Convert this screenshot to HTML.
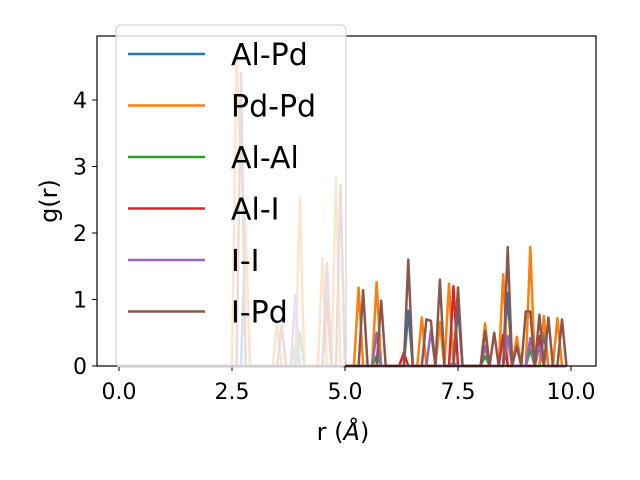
<!DOCTYPE html>
<html><head><meta charset="utf-8"><style>body{margin:0;background:#fff}svg{display:block;font-family:"DejaVu Sans","Liberation Sans",sans-serif}</style></head>
<body>
<svg id="chart" width="640" height="480"></svg>
<script>
const xTicks=[0,2.5,5,7.5,10];
const xTickLabels=["0.0","2.5","5.0","7.5","10.0"];
const yTicks=[0,1,2,3,4];
const seriesNames=["Al-Pd","Pd-Pd","Al-Al","Al-I","I-I","I-Pd"];
const seriesColors=["#1f77b4","#ff7f0e","#2ca02c","#d62728","#9467bd","#8c564b"];
const alPdR=[2.8,3.9,6.4,7.5,8.6,9.4];
const alPdG=[2.05,0.3,0.83,0.9,1.1,0.5];
const pdPdR=[2.6,2.7,2.8,3.5,4.0,4.5,4.8,5.3,5.7,6.7,7.1,7.3,8.1,8.5,8.8,9.1,9.4,9.7];
const pdPdG=[4.6,3.0,2.0,0.65,2.54,1.62,2.84,1.18,1.26,0.73,0.66,1.24,0.64,1.38,0.44,1.79,0.75,0.72];
const alAlR=[4.0,5.7,8.1,9.1];
const alAlG=[0.5,0.15,0.15,0.25];
const alIR=[4.6,6.3,7.4,8.5,9.3];
const alIG=[1.0,0.2,1.2,0.47,0.45];
const iIR=[3.9,5.7,6.9,7.4,8.1,8.6,9.1,9.3];
const iIG=[1.07,0.5,0.54,0.05,0.3,0.45,0.42,0.3];
const iPdR=[2.7,3.6,4.6,4.9,5.4,5.8,6.4,6.8,6.9,7.1,7.5,8.1,8.3,8.6,8.8,9.0,9.1,9.3,9.5,9.8];
const iPdG=[4.4,0.6,1.55,2.72,1.14,0.98,1.6,0.7,0.68,1.3,1.18,0.53,0.5,1.79,0.3,0.82,0.82,0.77,0.73,0.7];
const peakR=[alPdR,pdPdR,alAlR,alIR,iIR,iPdR];
const peakG=[alPdG,pdPdG,alAlG,alIG,iIG,iPdG];

const L=97,R=596,T=36,B=366;
const xs=v=>119+v*45.2;
const ys=v=>366-v*66.5;
const NS="http://www.w3.org/2000/svg";
const svg=document.getElementById('chart');
function mk(tag,attrs,parent){const e=document.createElementNS(NS,tag);for(const k in attrs)e.setAttribute(k,attrs[k]);(parent||svg).appendChild(e);return e;}

peakR.forEach((rs,si)=>{
  const vals=new Array(100).fill(0);
  rs.forEach((r,j)=>{vals[Math.round(r*10)]=peakG[si][j];});
  const pts=vals.map((v,i)=>xs(i/10).toFixed(1)+","+ys(v).toFixed(1)).join(" ");
  const pl=mk('polyline',{points:pts,fill:'none',stroke:seriesColors[si],'stroke-width':2.5,'stroke-linejoin':'round'});
  
  
});

const fr=mk('rect',{x:L,y:T,width:R-L,height:B-T,fill:'none',stroke:'#000','stroke-width':1.2});



xTicks.forEach((t,i)=>{
  mk('line',{x1:xs(t),x2:xs(t),y1:B,y2:B+5,stroke:'#000'});
  const tx=mk('text',{x:xs(t),y:B+33,'font-size':22,'text-anchor':'middle'});
  tx.textContent=xTickLabels[i];
  
  
});
yTicks.forEach(t=>{
  mk('line',{x1:L-5,x2:L,y1:ys(t),y2:ys(t),stroke:'#000'});
  const tx=mk('text',{x:L-10,y:ys(t)+8,'font-size':22,'text-anchor':'end'});
  tx.textContent=String(t);
  
  
});

const xl=mk('text',{x:343,y:440,'font-size':24,'text-anchor':'middle'});
xl.innerHTML='r (<tspan font-style="italic">Å</tspan>)';


const yl=mk('text',{x:57,y:201,'font-size':24,'text-anchor':'middle',transform:'rotate(-90 57 201)'});
yl.textContent='g(r)';



const lg=mk('g',{});


mk('rect',{x:116,y:25,width:230,height:342,rx:5,fill:'#fff','fill-opacity':0.8,stroke:'#ccc'},lg);
seriesNames.forEach((n,i)=>{
  const y=54+i*51.5;
  const ln=mk('line',{x1:128,x2:205,y1:y,y2:y,stroke:seriesColors[i],'stroke-width':2.5},lg);
  
  
  const tx=mk('text',{x:231,y:y+11,'font-size':30},lg);
  tx.textContent=n;
  
  
});
</script>
</body></html>
